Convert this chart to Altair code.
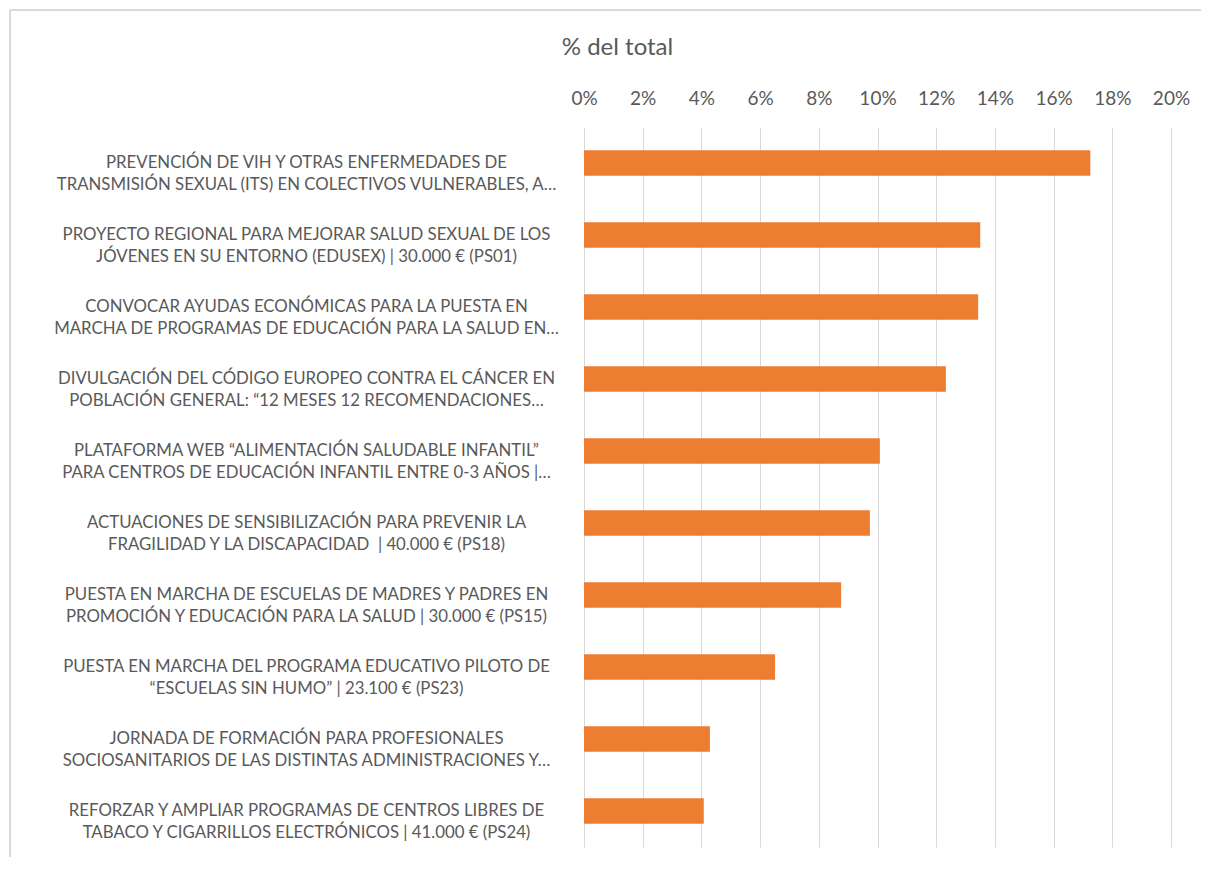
import altair as alt
import pandas as pd

categories = [
    "PREVENCIÓN DE VIH Y OTRAS ENFERMEDADES DE\nTRANSMISIÓN SEXUAL (ITS) EN COLECTIVOS VULNERABLES, A…",
    "PROYECTO REGIONAL PARA MEJORAR SALUD SEXUAL DE LOS\nJÓVENES EN SU ENTORNO (EDUSEX) | 30.000 € (PS01)",
    "CONVOCAR AYUDAS ECONÓMICAS PARA LA PUESTA EN\nMARCHA DE PROGRAMAS DE EDUCACIÓN PARA LA SALUD EN…",
    "DIVULGACIÓN DEL CÓDIGO EUROPEO CONTRA EL CÁNCER EN\nPOBLACIÓN GENERAL: “12 MESES 12 RECOMENDACIONES…",
    "PLATAFORMA WEB “ALIMENTACIÓN SALUDABLE INFANTIL”\nPARA CENTROS DE EDUCACIÓN INFANTIL ENTRE 0-3 AÑOS |…",
    "ACTUACIONES DE SENSIBILIZACIÓN PARA PREVENIR LA\nFRAGILIDAD Y LA DISCAPACIDAD \u00a0| 40.000 € (PS18)",
    "PUESTA EN MARCHA DE ESCUELAS DE MADRES Y PADRES EN\nPROMOCIÓN Y EDUCACIÓN PARA LA SALUD | 30.000 € (PS15)",
    "PUESTA EN MARCHA DEL PROGRAMA EDUCATIVO PILOTO DE\n“ESCUELAS SIN HUMO” | 23.100 € (PS23)",
    "JORNADA DE FORMACIÓN PARA PROFESIONALES\nSOCIOSANITARIOS DE LAS DISTINTAS ADMINISTRACIONES Y…",
    "REFORZAR Y AMPLIAR PROGRAMAS DE CENTROS LIBRES DE\nTABACO Y CIGARRILLOS ELECTRÓNICOS | 41.000 € (PS24)",
]
values = [0.1725, 0.1350, 0.1343, 0.1233, 0.1008, 0.0974, 0.0876, 0.0651, 0.0429, 0.0408]
tick_values = [0.0, 0.02, 0.04, 0.06, 0.08, 0.10, 0.12, 0.14, 0.16, 0.18, 0.20]

df = pd.DataFrame({"cat": categories, "val": values})

FONT = "Lato"
GREY = "#595959"

bars = alt.Chart(df).mark_bar(color="#ED7D31").encode(
    x=alt.X(
        "val:Q",
        scale=alt.Scale(domain=[0, 0.2], nice=False, zero=True),
        axis=alt.Axis(
            orient="top",
            values=tick_values,
            format=".0%",
            title="% del total",
            titleFont=FONT,
            titleFontSize=24,
            titleFontWeight="normal",
            titleColor=GREY,
            titleX=33,
            titleY=-80,
            titleAlign="center",
            titleBaseline="middle",
            labelFont=FONT,
            labelFontSize=19,
            labelColor=GREY,
            labelPadding=19,
            labelFlush=False,
            labelOverlap=False,
            grid=True,
            gridColor="#D9D9D9",
            gridWidth=1,
            domain=False,
            ticks=False,
        ),
    ),
    y=alt.Y(
        "cat:N",
        sort=categories,
        scale=alt.Scale(paddingInner=0.646, paddingOuter=0.323),
        axis=alt.Axis(
            title=None,
            labelExpr="split(datum.label, '\\n')",
            labelAlign="center",
            labelBaseline="middle",
            labelPadding=278,
            labelLimit=0,
            labelFont=FONT,
            labelFontSize=16.8,
            labelLineHeight=22,
            labelColor=GREY,
            domain=False,
            ticks=False,
            grid=False,
        ),
    ),
)

border_left = alt.Chart(df).mark_rule(color="#D9D9D9", strokeWidth=1).encode(
    x=alt.value(-574), y=alt.value(-117), y2=alt.value(760)
)
border_top = alt.Chart(df).mark_rule(color="#D9D9D9", strokeWidth=1).encode(
    x=alt.value(-574), x2=alt.value(700), y=alt.value(-117)
)

chart = (
    alt.layer(bars, border_left, border_top)
    .properties(
        width=587,
        height=720,
        padding={"left": 576, "top": 119, "right": 30, "bottom": 10},
        autosize=alt.AutoSizeParams(type="none"),
        background="white",
    )
    .configure_view(stroke=None)
)

chart.save("out.html", embed_options={"renderer": "svg", "actions": False})
